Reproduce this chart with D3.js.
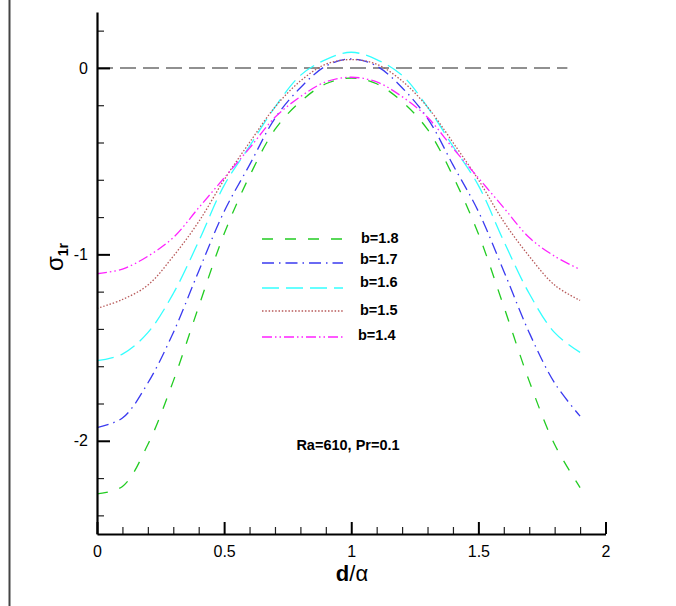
<!DOCTYPE html>
<html><head><meta charset="utf-8">
<script src="https://cdn.jsdelivr.net/npm/d3@7/dist/d3.min.js"></script>
<style>body{margin:0;background:#fff} svg{display:block;font-family:"Liberation Sans",Arial,Helvetica,sans-serif}
.tl text{font-size:16px;font-family:"Liberation Sans",Arial,sans-serif;fill:#000}</style>
</head><body>
<script>
// ---- data ----
const dValues = [0,0.1,0.2,0.3,0.4,0.5,0.6,0.7,0.8,0.9,1.0,1.1,1.2,1.3,1.4,1.5,1.6,1.7,1.8,1.9];
const b18 = [-2.285,-2.245,-2.02,-1.68,-1.28,-0.89,-0.58,-0.33,-0.181,-0.085,-0.054,-0.085,-0.181,-0.33,-0.58,-0.89,-1.28,-1.68,-2.02,-2.251];
const b17 = [-1.929,-1.878,-1.69,-1.42,-1.09,-0.77,-0.52,-0.27,-0.106,0.01,0.048,0.01,-0.106,-0.27,-0.52,-0.77,-1.09,-1.42,-1.69,-1.868];
const b16 = [-1.570,-1.535,-1.42,-1.21,-0.93,-0.63,-0.42,-0.21,-0.04,0.045,0.084,0.045,-0.04,-0.21,-0.42,-0.63,-0.93,-1.21,-1.42,-1.526];
const b15 = [-1.290,-1.242,-1.165,-1.01,-0.825,-0.60,-0.40,-0.21,-0.07,0.02,0.045,0.02,-0.07,-0.21,-0.40,-0.60,-0.825,-1.01,-1.165,-1.247];
const b14 = [-1.104,-1.079,-1.01,-0.91,-0.75,-0.59,-0.43,-0.265,-0.154,-0.075,-0.05,-0.075,-0.154,-0.265,-0.43,-0.59,-0.75,-0.91,-1.01,-1.081];
const seriesLabels = ["b=1.8","b=1.7","b=1.6","b=1.5","b=1.4"];
const seriesValues = [b18,b17,b16,b15,b14];
const xMajorTicks = [0,0.5,1,1.5,2];
const xMinorTicks = [0.1,0.2,0.3,0.4,0.6,0.7,0.8,0.9,1.1,1.2,1.3,1.4,1.6,1.7,1.8,1.9];
const yMajorTicks = [-2,-1,0];
const yMinorTicks = [-2.4,-2.2,-1.8,-1.6,-1.4,-1.2,-0.8,-0.6,-0.4,-0.2,0.2];
const zeroLineD = [0,1.85];
const annotation = "Ra=610, Pr=0.1";

// ---- styles ----
const colors = ["#22cc22","#3a3af0","#33ffff","#b85a5a","#ff22ff"];
const dashes = ["11,12","12,5,1.5,5","17,7","1.5,1.8","10,3,1.5,3,1.5,3"];

const W=676,H=606;
const x = d3.scaleLinear().domain([0,2]).range([97,605.5]);
const y = d3.scaleLinear().domain([-2.5,0.3]).range([534,12]);
const fmt = d => String(d);

const svg = d3.select("body").append("svg").attr("width",W).attr("height",H);

// page border at left
svg.append("line").attr("x1",9.5).attr("x2",9.5).attr("y1",0).attr("y2",H)
  .attr("stroke","#444").attr("stroke-width",2);

// zero reference dashed line
svg.append("line").attr("x1",x(zeroLineD[0])).attr("x2",x(zeroLineD[1]))
  .attr("y1",y(0)).attr("y2",y(0)).attr("stroke","#222").attr("stroke-width",1.1)
  .attr("stroke-dasharray","16,7");

// curves
const line = d3.line().x((d,i)=>x(dValues[i])).y(d=>y(d)).curve(d3.curveCatmullRom.alpha(0.5));
seriesValues.forEach((vals,k)=>{
  svg.append("path").attr("d",line(vals)).attr("fill","none")
    .attr("stroke",colors[k]).attr("stroke-width",1.3).attr("stroke-dasharray",dashes[k]);
});

// axes (separate groups for minor and major ticks)
const x0 = y(-2.5);
const gxMin = svg.append("g").attr("transform",`translate(0,${x0})`)
  .call(d3.axisBottom(x).tickValues(xMinorTicks).tickSizeInner(-7).tickSizeOuter(0).tickFormat(""));
const gxMaj = svg.append("g").attr("class","tl").attr("transform",`translate(0,${x0})`)
  .call(d3.axisBottom(x).tickValues(xMajorTicks).tickSizeInner(-12).tickSizeOuter(0).tickPadding(12).tickFormat(fmt));
const gyMin = svg.append("g").attr("transform",`translate(${x(0)},0)`)
  .call(d3.axisLeft(y).tickValues(yMinorTicks).tickSizeInner(-7).tickSizeOuter(0).tickFormat(""));
const gyMaj = svg.append("g").attr("class","tl").attr("transform",`translate(${x(0)},0)`)
  .call(d3.axisLeft(y).tickValues(yMajorTicks).tickSizeInner(-13).tickSizeOuter(0).tickPadding(9).tickFormat(fmt));
[gxMin,gyMin].forEach(g=>{g.select("path.domain").remove(); g.selectAll(".tick line").attr("stroke","#222").attr("stroke-width",1.2);});
[gxMaj,gyMaj].forEach(g=>{
  g.select("path.domain").attr("stroke","#000").attr("stroke-width",2.2);
  g.selectAll(".tick line").attr("stroke","#000").attr("stroke-width",2);
  g.attr("font-size",null).attr("font-family",null);
});

// axis titles
const xt = svg.append("text").attr("x",352).attr("y",581).attr("text-anchor","middle").attr("font-size",22).attr("fill","#000");
xt.append("tspan").attr("font-weight","bold").text("d");
xt.append("tspan").text("/α");

const yt = svg.append("text").attr("transform","translate(63,257) rotate(-90)").attr("text-anchor","middle").attr("fill","#000");
yt.append("tspan").attr("font-size",24).text("σ");
yt.append("tspan").attr("font-size",14).attr("font-weight","bold").attr("dy",5).text("1r");

// legend
const legY = [239,263,288,311,337];
const legTextX = [361,360,360,360,358];
const legTextY = [243,264,287,315,340];
seriesLabels.forEach((lab,k)=>{
  svg.append("line").attr("x1",262).attr("x2",343).attr("y1",legY[k]).attr("y2",legY[k])
    .attr("stroke",colors[k]).attr("stroke-width",1.3).attr("stroke-dasharray",dashes[k]);
  svg.append("text").attr("x",legTextX[k]).attr("y",legTextY[k]).attr("font-size",14.5)
    .attr("font-weight","bold").attr("fill","#000").text(lab);
});

// annotation
svg.append("text").attr("x",348).attr("y",450).attr("text-anchor","middle").attr("font-size",14.5)
  .attr("font-weight","bold").attr("fill","#000").text(annotation);
</script>
</body></html>
